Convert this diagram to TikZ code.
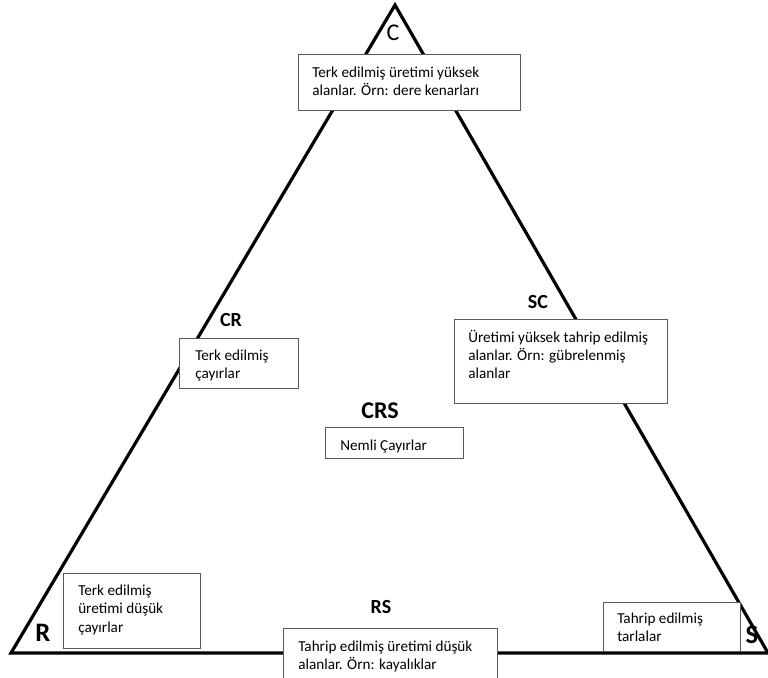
\documentclass[tikz,border=0pt]{standalone}
\usepackage{fontspec}
\setmainfont{Carlito}
\begin{document}
\begin{tikzpicture}[x=0.75pt,y=-0.75pt]
\tikzset{
  box/.style={draw=black!65, line width=0.9pt, fill=white, anchor=north west, inner sep=0pt},
  boxtext/.style={anchor=north west, align=left, inner sep=0pt, font=\fontsize{11.4}{13.6}\selectfont, execute at begin node=\strut},
  corner/.style={font=\bfseries\fontsize{20}{20}\selectfont},
  side/.style={font=\bfseries\fontsize{15}{15}\selectfont}
}
\useasboundingbox (0,0) rectangle (768,678);
\coordinate (vc) at (395,5);
\coordinate (vr) at (11,653);
\coordinate (vs) at (768,653);
\begin{scope}
\clip (0,0) rectangle (768,678);
\draw[line width=2.4pt] (vc) -- (vr) -- (vs) -- cycle;
\end{scope}
% boxes
\node[box, minimum width=166.5pt, minimum height=42pt] (cbox) at (298,54) {};
\node[box, minimum width=89.25pt, minimum height=37.5pt] (crbox) at (179,338) {};
\node[box, minimum width=159.75pt, minimum height=63pt] (scbox) at (454,319) {};
\node[box, minimum width=103.5pt, minimum height=23.25pt] (crsbox) at (325,427) {};
\node[box, minimum width=102.75pt, minimum height=56.25pt] (rbox) at (63,573) {};
\node[box, minimum width=160.5pt, minimum height=45pt] (rsbox) at (283,628) {};
\node[box, minimum width=102.75pt, minimum height=36.75pt] (sbox) at (603,602) {};
% texts
\node[boxtext] (ctext) at (312,67) {Terk edilmiş üretimi yüksek\\alanlar. Örn: dere kenarları};
\node[boxtext] (crtext) at (195,350) {Terk edilmiş\\çayırlar};
\node[boxtext] (sctext) at (468,330) {Üretimi yüksek tahrip edilmiş\\alanlar. Örn: gübrelenmiş\\alanlar};
\node[boxtext] (crstext) at (340,438) {Nemli Çayırlar};
\node[boxtext] (rtext) at (78,585) {Terk edilmiş\\üretimi düşük\\çayırlar};
\node[boxtext] (rstext) at (298,641) {Tahrip edilmiş üretimi düşük\\alanlar. Örn: kayalıklar};
\node[boxtext] (stext) at (617,613) {Tahrip edilmiş\\tarlalar};
% labels
\node[font=\fontsize{18}{18}\selectfont] (lc) at (393,33) {C};
\node[corner] (lr) at (43,633) {R};
\node[corner] (ls) at (752,635) {S};
\node[side] (lcr) at (231,320) {CR};
\node[side] (lsc) at (538,302) {SC};
\node[side] (lrs) at (381,607) {RS};
\node[font=\bfseries\fontsize{18}{18}\selectfont] (lcrs) at (380,411) {CRS};
\end{tikzpicture}
\end{document}
